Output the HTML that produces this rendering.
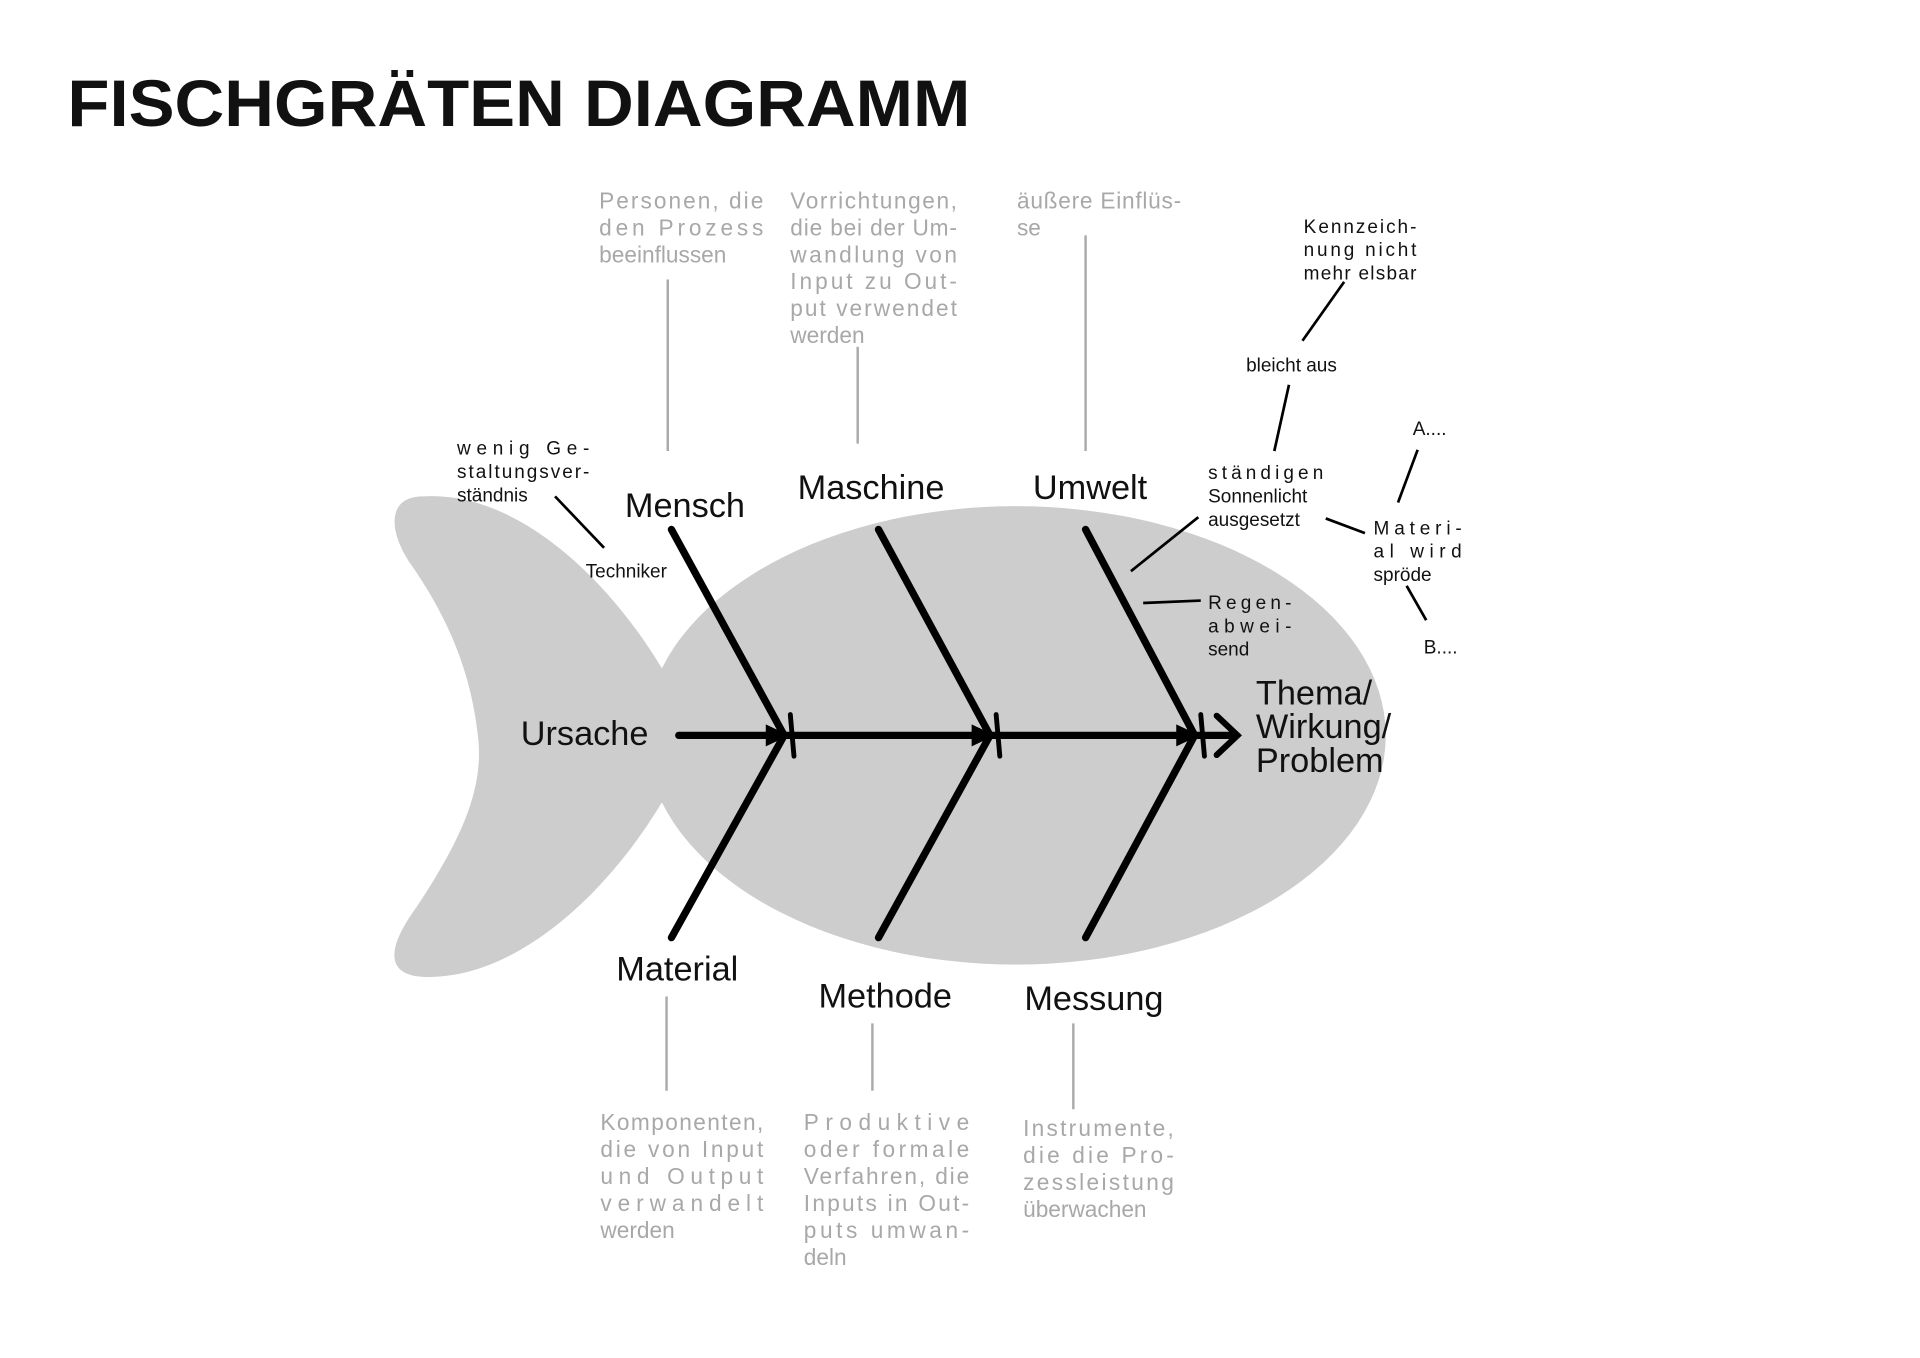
<!DOCTYPE html>
<html><head><meta charset="utf-8"><style>
html,body{margin:0;padding:0;background:#fff;}
svg{display:block}
text{font-family:"Liberation Sans",sans-serif;}
.g{fill:#a8a8a8;font-size:18.5px;}
.b{fill:#111;font-size:15.5px;}
.l{fill:#111;font-size:28px;}
</style></head><body>
<svg width="1920" height="1358" viewBox="0 0 1567 1108" preserveAspectRatio="none" xmlns="http://www.w3.org/2000/svg">
<rect width="1567" height="1108" fill="#fff"/>
<text x="55" y="103" font-size="54" font-weight="bold" textLength="737" lengthAdjust="spacingAndGlyphs" fill="#111">FISCHGRÄTEN DIAGRAMM</text>
<!-- fish -->
<path d="M345,405 C420,400 495,470 540,545 L600,560 L600,640 L540,655 C495,730 420,800 345,797 C312,795 318,770 340,740 C380,680 395,640 390,600 C385,555 370,510 335,460 C315,430 318,405 345,405 Z" fill="#cdcdcd"/>
<ellipse cx="829" cy="600" rx="302" ry="187" fill="#cdcdcd"/>
<!-- bones -->
<g stroke="#000" stroke-width="6" stroke-linecap="round" fill="none">
<line x1="554" y1="600" x2="1008" y2="600"/>
<polyline points="993,584 1010,600 993,616" stroke-width="5"/>
<line x1="548" y1="432" x2="640" y2="600"/>
<line x1="717" y1="432" x2="808" y2="600"/>
<line x1="886" y1="432" x2="975" y2="600"/>
<line x1="548" y1="765" x2="640" y2="600"/>
<line x1="717" y1="765" x2="808" y2="600"/>
<line x1="886" y1="765" x2="975" y2="600"/>
<line x1="645" y1="583" x2="648" y2="617" stroke-width="4"/>
<line x1="813" y1="583" x2="816" y2="617" stroke-width="4"/>
<line x1="980" y1="583" x2="983" y2="617" stroke-width="4"/>
</g>
<g fill="#000"><path d="M625,591 L644,600 L625,609 Z"/><path d="M793,591 L812,600 L793,609 Z"/><path d="M960,591 L979,600 L960,609 Z"/></g>
<!-- labels -->
<text class="l" x="510" y="422">Mensch</text>
<text class="l" x="651" y="407">Maschine</text>
<text class="l" x="843" y="407">Umwelt</text>
<text class="l" x="503" y="800">Material</text>
<text class="l" x="668" y="822">Methode</text>
<text class="l" x="836" y="824">Messung</text>
<text class="l" x="425" y="608" font-size="21">Ursache</text>
<g class="l" font-size="22"><text x="1025" y="575">Thema/</text><text x="1025" y="602">Wirkung/</text><text x="1025" y="630">Problem</text></g>
<!-- gray connectors -->
<g stroke="#aaa" stroke-width="2">
<line x1="545" y1="228" x2="545" y2="368"/><line x1="700" y1="283" x2="700" y2="362"/><line x1="886" y1="192" x2="886" y2="368"/>
<line x1="544" y1="813" x2="544" y2="890"/><line x1="712" y1="835" x2="712" y2="890"/><line x1="876" y1="835" x2="876" y2="905"/>
</g>
<g class="g">
<text x="489" y="170" textLength="134" lengthAdjust="spacing">Personen, die</text>
<text x="489" y="192" textLength="134" lengthAdjust="spacing">den Prozess</text>
<text x="489" y="214">beeinflussen</text>
<text x="645" y="170" textLength="136" lengthAdjust="spacing">Vorrichtungen,</text>
<text x="645" y="192" textLength="136" lengthAdjust="spacing">die bei der Um-</text>
<text x="645" y="214" textLength="136" lengthAdjust="spacing">wandlung von</text>
<text x="645" y="236" textLength="136" lengthAdjust="spacing">Input zu Out-</text>
<text x="645" y="258" textLength="136" lengthAdjust="spacing">put verwendet</text>
<text x="645" y="280">werden</text>
<text x="830" y="170" textLength="134" lengthAdjust="spacing">äußere Einflüs-</text>
<text x="830" y="192">se</text>
<text x="490" y="922" textLength="133" lengthAdjust="spacing">Komponenten,</text>
<text x="490" y="944" textLength="133" lengthAdjust="spacing">die von Input</text>
<text x="490" y="966" textLength="133" lengthAdjust="spacing">und Output</text>
<text x="490" y="988" textLength="133" lengthAdjust="spacing">verwandelt</text>
<text x="490" y="1010">werden</text>
<text x="656" y="922" textLength="135" lengthAdjust="spacing">Produktive</text>
<text x="656" y="944" textLength="135" lengthAdjust="spacing">oder formale</text>
<text x="656" y="966" textLength="135" lengthAdjust="spacing">Verfahren, die</text>
<text x="656" y="988" textLength="135" lengthAdjust="spacing">Inputs in Out-</text>
<text x="656" y="1010" textLength="135" lengthAdjust="spacing">puts umwan-</text>
<text x="656" y="1032">deln</text>
<text x="835" y="927" textLength="123" lengthAdjust="spacing">Instrumente,</text>
<text x="835" y="949" textLength="123" lengthAdjust="spacing">die die Pro-</text>
<text x="835" y="971" textLength="123" lengthAdjust="spacing">zessleistung</text>
<text x="835" y="993">überwachen</text>
</g>
<!-- black sub-causes -->
<g class="b">
<text x="373" y="371" textLength="108" lengthAdjust="spacing">wenig Ge-</text>
<text x="373" y="390" textLength="108" lengthAdjust="spacing">staltungsver-</text>
<text x="373" y="409">ständnis</text>
<text x="478" y="471">Techniker</text>
<text x="1064" y="190" textLength="92" lengthAdjust="spacing">Kennzeich-</text>
<text x="1064" y="209" textLength="92" lengthAdjust="spacing">nung nicht</text>
<text x="1064" y="228" textLength="92" lengthAdjust="spacing">mehr elsbar</text>
<text x="1017" y="303">bleicht aus</text>
<text x="986" y="391" textLength="94" lengthAdjust="spacing">ständigen</text>
<text x="986" y="410">Sonnenlicht</text>
<text x="986" y="429">ausgesetzt</text>
<text x="986" y="497" textLength="68" lengthAdjust="spacing">Regen-</text>
<text x="986" y="516" textLength="68" lengthAdjust="spacing">abwei-</text>
<text x="986" y="535">send</text>
<text x="1121" y="436" textLength="72" lengthAdjust="spacing">Materi-</text>
<text x="1121" y="455" textLength="72" lengthAdjust="spacing">al wird</text>
<text x="1121" y="474">spröde</text>
<text x="1153" y="355">A....</text>
<text x="1162" y="533">B....</text>
</g>
<g stroke="#000" stroke-width="2.2">
<line x1="453" y1="405" x2="493" y2="447"/>
<line x1="1097" y1="230" x2="1063" y2="278"/>
<line x1="1052" y1="314" x2="1040" y2="368"/>
<line x1="978" y1="422" x2="923" y2="466"/>
<line x1="933" y1="492" x2="980" y2="490"/>
<line x1="1082" y1="423" x2="1114" y2="435"/>
<line x1="1157" y1="367" x2="1141" y2="410"/>
<line x1="1148" y1="478" x2="1164" y2="506"/>
</g>
</svg>
</body></html>
